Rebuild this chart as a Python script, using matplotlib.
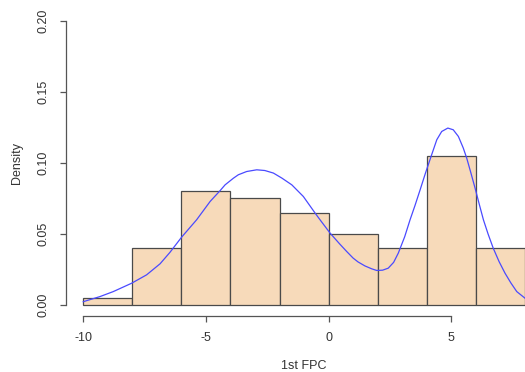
import matplotlib
matplotlib.use("Agg")
import matplotlib.pyplot as plt
import numpy as np

plt.rcParams['font.family'] = ['Liberation Sans', 'DejaVu Sans']

# Histogram (bin edges and densities)
bin_edges = [-10, -8, -6, -4, -2, 0, 2, 4, 6, 8]
densities = [0.005, 0.04, 0.08, 0.075, 0.065, 0.05, 0.04, 0.105, 0.04]

# Density curve points
curve_x = [-10.0, -9.32, -8.78, -8.03, -7.42, -6.87, -6.47, -5.99, -5.38, -4.83,
           -4.43, -4.22, -3.88, -3.68, -3.34, -2.93, -2.60, -2.25, -1.90, -1.50,
           -1.03, -0.55, -0.35, 0.06, 0.45, 0.74, 1.00, 1.20, 1.48, 1.75,
           1.96, 2.20, 2.43, 2.65, 2.84, 3.10, 3.32, 3.52, 3.73, 3.95,
           4.20, 4.41, 4.61, 4.86, 5.08, 5.29, 5.49, 5.63, 5.80, 5.97,
           6.14, 6.31, 6.50, 6.71, 6.95, 7.19, 7.43, 7.67, 8.01]
curve_y = [0.0023, 0.0059, 0.0094, 0.0153, 0.0212, 0.0290, 0.0370, 0.0478, 0.0600, 0.0729,
           0.0804, 0.0846, 0.0893, 0.0917, 0.0940, 0.0952, 0.0947, 0.0929, 0.0893, 0.0846,
           0.0764, 0.0647, 0.0600, 0.0506, 0.0430, 0.0376, 0.0330, 0.0303, 0.0275, 0.0255,
           0.0243, 0.0245, 0.0259, 0.0300, 0.0365, 0.0480, 0.0600, 0.0700, 0.0811, 0.0930,
           0.1058, 0.1164, 0.1222, 0.1246, 0.1234, 0.1187, 0.1105, 0.1034, 0.0930, 0.0823,
           0.0710, 0.0600, 0.0500, 0.0400, 0.0305, 0.0224, 0.0155, 0.0094, 0.0047]

x_ticks = [-10, -5, 0, 5]
y_ticks = [0.00, 0.05, 0.10, 0.15, 0.20]
y_ticklabels = ["0.00", "0.05", "0.10", "0.15", "0.20"]

fig = plt.figure(figsize=(5.25, 3.72), dpi=100)
ax = fig.add_axes([0.125, 0.1497, 0.9084, 0.8243])

widths = np.diff(bin_edges)
ax.bar(bin_edges[:-1], densities, width=widths, align='edge',
       color='#F7DABA', edgecolor='#4a4a4a', linewidth=0.9)
ax.plot(curve_x, curve_y, color='#4a4aff', linewidth=0.9)

ax.set_xlim(-10.72, 8.72)
ax.set_ylim(-0.008, 0.208)

for s in ['top', 'right']:
    ax.spines[s].set_visible(False)
ax.spines['bottom'].set_bounds(-10, 5)
ax.spines['left'].set_bounds(0, 0.2)
for s in ['bottom', 'left']:
    ax.spines[s].set_color('#555555')
    ax.spines[s].set_linewidth(0.9)

ax.set_xticks(x_ticks)
ax.set_xticklabels([str(t) for t in x_ticks])
ax.set_yticks(y_ticks)
ax.set_yticklabels(y_ticklabels, rotation=90, va='center')
ax.tick_params(axis='both', colors='#555555', labelcolor='#333333',
               length=4.3, width=0.9, labelsize=9)
ax.tick_params(axis='x', pad=7)
ax.tick_params(axis='y', pad=7.5)

fig.text(304 / 525, 1 - 366 / 372, "1st FPC", ha='center', va='center',
         fontsize=9, color='#333333')
fig.text(17 / 525, 1 - 163 / 372, "Density", ha='center', va='center',
         rotation=90, fontsize=9, color='#333333')

fig.savefig("out.png", dpi=100)
